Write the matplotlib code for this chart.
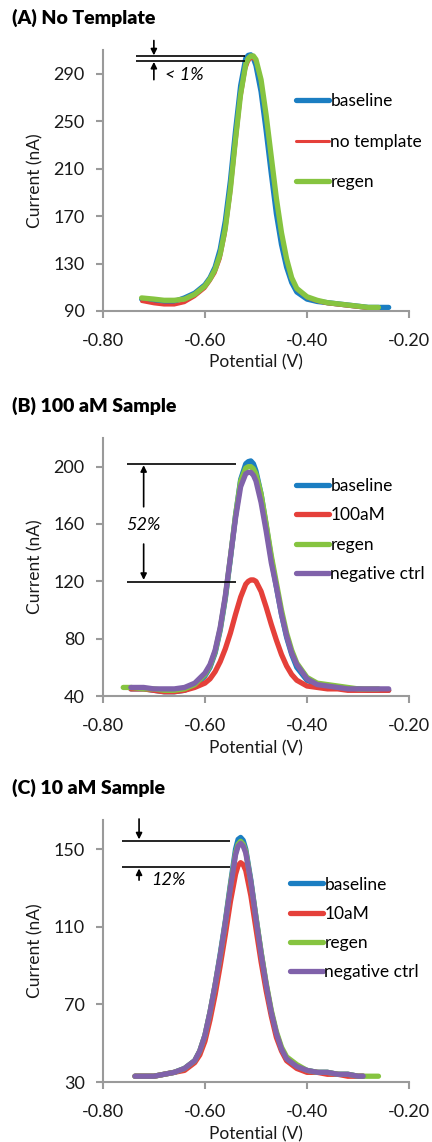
import numpy as np
import matplotlib
matplotlib.use('Agg')
from matplotlib import pyplot as plt

nan = np.nan

# ---------------- datos ----------------
# (A) No Template
pot_a = [-0.724, -0.70, -0.68, -0.66, -0.64, -0.62, -0.60, -0.59, -0.58, -0.57,
         -0.56, -0.55, -0.54, -0.53, -0.52, -0.515, -0.51, -0.505, -0.50, -0.49,
         -0.48, -0.47, -0.46, -0.45, -0.44, -0.43, -0.42, -0.40, -0.38, -0.36,
         -0.34, -0.32, -0.30, -0.28, -0.26, -0.24]
a_baseline = [100, 99, 98, 98, 101, 105, 112, 118, 127, 142,
              166, 200, 242, 280, 303, 305.5, 306, 303, 297, 275,
              242, 206, 172, 146, 127, 114, 106, 100, 98, 97,
              96, 95, 94, 93, 93, 93]
a_notemplate = [98, 96, 95, 95, 97, 102, 109, 115, 122, 134,
                155, 187, 228, 268, 294, 300, 303, 302.5, 300, 283,
                253, 218, 183, 154, 132, 117, 108, 101, 98, 96,
                95, 94, 93, 92, 92, nan]
a_regen = [101, 100, 99, 99, 100, 104, 111, 117, 125, 138,
           160, 193, 235, 273, 298, 303, 305, 305, 302, 285,
           255, 220, 185, 156, 134, 118, 109, 102, 99, 97,
           96, 95, 94, 93, 93, nan]
labels_a = ['baseline', 'no template', 'regen']

# (B) 100 aM Sample
pot_b = [-0.76, -0.745, -0.72, -0.70, -0.68, -0.66, -0.64, -0.62, -0.60, -0.59,
         -0.58, -0.57, -0.56, -0.55, -0.54, -0.53, -0.52, -0.515, -0.51, -0.505,
         -0.50, -0.49, -0.48, -0.47, -0.46, -0.45, -0.44, -0.43, -0.42, -0.40,
         -0.38, -0.36, -0.34, -0.32, -0.30, -0.28, -0.26, -0.24]
b_baseline = [nan, 45, 45, 44, 43, 43, 44, 47, 54, 60,
              70, 86, 108, 136, 166, 191, 202, 203.5, 204, 202,
              197, 181, 159, 136, 116, 97, 81, 69, 60, 51,
              48, 47, 46, 45, 45, 44, 44, 44]
b_100am = [nan, 45, 45, 44, 43, 43, 44, 46, 49, 52,
           57, 64, 73, 84, 97, 109, 118, 120, 121, 121,
           120, 113, 102, 90, 79, 69, 61, 55, 51, 47,
           46, 45, 45, 44, 44, 44, 44, 44]
b_regen = [46, 46, 45, 45, 44, 44, 45, 48, 55, 61,
           71, 87, 109, 137, 166, 190, 199, 200, 200, 198.5,
           195, 181, 160, 138, 119, 100, 84, 72, 63, 53,
           49, 48, 47, 46, 45, 45, 45, nan]
b_negctrl = [nan, 46, 46, 45, 45, 45, 46, 49, 56, 62,
             72, 88, 110, 137, 164, 186, 195, 196, 196, 194,
             190, 175, 155, 133, 116, 97, 82, 70, 62, 52,
             48, 47, 46, 45, 45, 45, 45, 45]
labels_b = ['baseline', '100aM', 'regen', 'negative ctrl']

# (C) 10 aM Sample
pot_c = [-0.737, -0.72, -0.70, -0.68, -0.66, -0.64, -0.62, -0.61, -0.60, -0.59,
         -0.58, -0.57, -0.56, -0.55, -0.54, -0.535, -0.53, -0.525, -0.52, -0.51,
         -0.50, -0.49, -0.48, -0.47, -0.46, -0.45, -0.44, -0.42, -0.40, -0.38,
         -0.36, -0.34, -0.32, -0.30, -0.29, -0.26]
c_baseline = [33, 33, 33, 34, 35, 37, 41, 46, 54, 66,
              80, 96, 113, 132, 150, 155, 156, 154.5, 150, 134,
              115, 97, 80, 66, 55, 47, 42, 38, 36, 35,
              35, 34, 34, 33, 33, nan]
c_10am = [33, 33, 33, 34, 35, 36, 40, 44, 51, 62,
          75, 90, 106, 123, 137, 141.5, 143, 142, 139, 126,
          109, 92, 77, 64, 53, 46, 41, 37, 35, 35,
          34, 34, 33, 33, 33, nan]
c_regen = [33, 33, 33, 34, 35, 37, 41, 46, 54, 66,
           80, 95, 112, 131, 148, 152.5, 154, 152.5, 149, 133,
           115, 97, 81, 67, 56, 48, 43, 39, 36, 35,
           35, 34, 34, 33, 33, 33]
c_negctrl = [33, 33, 33, 34, 35, 37, 41, 46, 54, 66,
             80, 95, 112, 130, 147, 151.5, 153, 151.5, 148, 133,
             114, 96, 80, 66, 55, 47, 42, 38, 36, 35,
             35, 34, 34, 33, 33, nan]
labels_c = ['baseline', '10aM', 'regen', 'negative ctrl']

x_ticks = [-0.80, -0.60, -0.40, -0.20]

# ---------------- estilo ----------------
plt.rcParams['font.family'] = ['Lato', 'DejaVu Sans']
azul, rojo, verde, morado = '#1b7ec2', '#e5403a', '#86c440', '#8062aa'
gris = '#9a9a9a'
fs_tick = 13
fs_leg = 12.5

fig = plt.figure(figsize=(4.32, 11.42), dpi=100)


def panel(rect, titulo, ylim, yticks, series, etiquetas, leg_pos, leg_sp):
    ax = fig.add_axes(rect)
    for (x, y, c, lw), lab in zip(series, etiquetas):
        ax.plot(x, y, color=c, lw=lw, label=lab, solid_capstyle='round')
    ax.set_xlim(-0.80, -0.20)
    ax.set_ylim(*ylim)
    ax.set_xticks(x_ticks)
    ax.set_xticklabels(['%.2f' % v for v in x_ticks])
    ax.set_yticks(yticks)
    for s in ['top', 'right']:
        ax.spines[s].set_visible(False)
    for s in ['left', 'bottom']:
        ax.spines[s].set_color(gris)
        ax.spines[s].set_linewidth(1.5)
    ax.tick_params(axis='both', colors=gris, labelcolor='#1a1a1a',
                   labelsize=fs_tick, width=1.5, length=5, direction='out')
    ax.tick_params(axis='x', pad=11)
    ax.tick_params(axis='y', pad=8)
    ax.set_xlabel('Potential (V)', fontsize=12.5, labelpad=4, color='#1a1a1a')
    ax.set_ylabel('Current (nA)', fontsize=12.5, color='#1a1a1a')
    ax.yaxis.set_label_coords(-0.195, 0.5)
    fig.text(0.028, rect[1] + rect[3] + 0.028, titulo, fontsize=14,
             fontweight='heavy', va='center', ha='left')
    ax.legend(loc='upper left', bbox_to_anchor=leg_pos, frameon=False,
              fontsize=fs_leg, handlelength=1.9, handletextpad=0.1,
              labelspacing=leg_sp, borderpad=0, borderaxespad=0)
    return ax


flecha = dict(arrowstyle='-|>', color='k', lw=1.2, mutation_scale=9,
              shrinkA=0, shrinkB=0)

# (A)
ax = panel([0.238, 0.7277, 0.709, 0.2285], '(A) No Template', (90, 310),
           [90, 130, 170, 210, 250, 290],
           [(pot_a, a_baseline, azul, 3.8), (pot_a, a_notemplate, rojo, 2.2),
            (pot_a, a_regen, verde, 3.8)], labels_a, (0.63, 0.834), 1.4)
ax.hlines([304.8, 300.6], -0.735, -0.522, color='k', lw=1.2, clip_on=False)
ax.annotate('', xy=(-0.70, 305.5), xytext=(-0.70, 318), arrowprops=flecha,
            annotation_clip=False)
ax.annotate('', xy=(-0.70, 300), xytext=(-0.70, 285), arrowprops=flecha)
ax.text(-0.678, 289, '< 1%', fontsize=13, style='italic', va='center')

# (B)
ax = panel([0.238, 0.3905, 0.709, 0.226], '(B) 100 aM Sample', (40, 220),
           [40, 80, 120, 160, 200],
           [(pot_b, b_baseline, azul, 3.8), (pot_b, b_100am, rojo, 3.8),
            (pot_b, b_regen, verde, 3.8), (pot_b, b_negctrl, morado, 3.8)],
           labels_b, (0.63, 0.846), 0.78)
ax.hlines([202, 119.6], -0.752, -0.539, color='k', lw=1.2)
ax.annotate('', xy=(-0.72, 201), xytext=(-0.72, 172), arrowprops=flecha)
ax.annotate('', xy=(-0.72, 121), xytext=(-0.72, 146), arrowprops=flecha)
ax.text(-0.72, 159, '52%', fontsize=13, style='italic', va='center', ha='center')

# (C)
ax = panel([0.238, 0.0525, 0.709, 0.2295], '(C) 10 aM Sample', (30, 165),
           [30, 70, 110, 150],
           [(pot_c, c_baseline, azul, 3.8), (pot_c, c_10am, rojo, 3.8),
            (pot_c, c_regen, verde, 3.8), (pot_c, c_negctrl, morado, 3.8)],
           labels_c, (0.61, 0.784), 0.75)
ax.hlines([154, 141], -0.763, -0.55, color='k', lw=1.2)
ax.annotate('', xy=(-0.729, 155), xytext=(-0.729, 165.5), arrowprops=flecha,
            annotation_clip=False)
ax.annotate('', xy=(-0.729, 140), xytext=(-0.729, 134), arrowprops=flecha)
ax.text(-0.705, 134, '12%', fontsize=13, style='italic', va='center')

plt.savefig('out.png', dpi=100)
